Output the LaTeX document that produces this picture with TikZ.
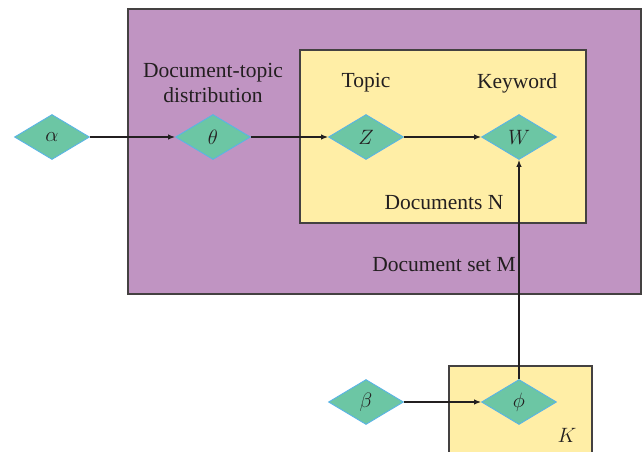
\documentclass[tikz,border=0pt]{standalone}
\usepackage{fontspec}
\setmainfont{Liberation Serif}
\usetikzlibrary{shapes.geometric,arrows.meta}
\definecolor{platepurple}{HTML}{C094C2}
\definecolor{plateyellow}{HTML}{FFEEA6}
\definecolor{dfill}{HTML}{6CC6A4}
\definecolor{dborder}{HTML}{5AB4E6}
\definecolor{ink}{HTML}{231F20}
\tikzset{
  var/.style={diamond, draw=dborder, fill=dfill, line width=0.9pt, inner sep=0pt,
    minimum width=75pt, minimum height=45pt, aspect=1.67, text=ink, font=\fontsize{21}{23}\selectfont},
  plate/.style={draw=ink!85, line width=1.3pt},
  lbl/.style={text=ink, font=\fontsize{21.5}{25}\selectfont, align=center, inner sep=0pt},
  conn/.style={draw=ink, line width=1.15pt, -{Latex[length=7pt,width=5.5pt]}}
}
\begin{document}
\begin{tikzpicture}[x=1pt,y=-1pt]
\clip (0,0) rectangle (643,451);
\fill[white] (0,0) rectangle (643,451);
% plates
\draw[plate, fill=platepurple] (128,9) rectangle (641,294);
\draw[plate, fill=plateyellow] (300,50) rectangle (586,223);
\draw[plate, fill=plateyellow] (449,366) rectangle (592,470);
% labels
\node[lbl] (ldt) at (213,83) {Document-topic\\distribution};
\node[lbl] (ltopic) at (366,83) {Topic};
\node[lbl] (lkey) at (517,83) {Keyword};
\node[lbl] (ldocs) at (444,203) {Documents N};
\node[lbl] (lset) at (444,265) {Document set M};
\node[lbl] (lk) at (567,435) {$K$};
% variables
\node[var] (alpha) at (52,137) {$\alpha$};
\node[var] (theta) at (213,137) {$\theta$};
\node[var] (z) at (366,137) {$Z$};
\node[var] (w) at (519,137) {$W$};
\node[var] (beta) at (366,402) {$\beta$};
\node[var] (phi) at (519,402) {$\phi$};
% connectors
\draw[conn] (alpha.east) -- (theta.west);
\draw[conn] (theta.east) -- (z.west);
\draw[conn] (z.east) -- (w.west);
\draw[conn] (beta.east) -- (phi.west);
\draw[conn] (phi.north) -- (w.south);
\end{tikzpicture}
\end{document}
